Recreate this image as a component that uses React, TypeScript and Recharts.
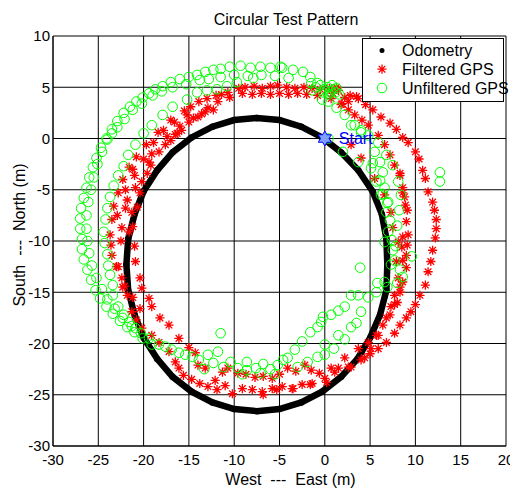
import { ScatterChart, Scatter, XAxis, YAxis, CartesianGrid, Legend, Label } from 'recharts';

type Pt = [number, number];

const FONT = '"Liberation Sans", Arial, Helvetica, sans-serif';

const xTicks = [-30, -25, -20, -15, -10, -5, 0, 5, 10, 15, 20];
const yTicks = [-30, -25, -20, -15, -10, -5, 0, 5, 10];
const seriesNames = ['Odometry', 'Filtered GPS', 'Unfiltered GPS'];

// odometry track
const odometry: Pt[] = [
  [6.9, -12.3], [6.8, -9.8], [6.3, -7.4], [5.3, -5.2], [3.7, -3.1], [1.8, -1.35], [-0.3, 0.1],
  [-2.6, 1.15], [-5.0, 1.8], [-7.5, 2.0], [-10.0, 1.8], [-12.4, 1.15], [-14.7, 0.1], [-16.8, -1.35],
  [-18.5, -3.1], [-20.0, -5.15], [-21.0, -7.4], [-21.7, -9.8], [-21.9, -12.3], [-21.7, -14.8],
  [-21.0, -17.2], [-20.0, -19.45], [-18.5, -21.5], [-16.8, -23.25], [-14.7, -24.7], [-12.4, -25.75],
  [-10.0, -26.4], [-7.5, -26.6], [-5.0, -26.4], [-2.6, -25.75], [-0.3, -24.7], [1.8, -23.25],
  [3.6, -21.5], [5.0, -19.45], [6.1, -17.2], [6.8, -14.8], [6.9, -12.3],
];

const filteredGps: Pt[] = [
  // outer lap
  [-0.5, 4.8], [0.5, 4.9], [1.5, 4.7], [2.8, 4.2], [3.7, 3.9], [4.5, 3.3], [5.3, 2.8], [6.2, 2.1],
  [7.2, 1.5], [7.9, 0.9], [8.6, 0.1], [9.2, -0.4], [10.0, -1.3], [10.4, -2.0], [10.8, -3.1],
  [11.1, -3.9], [11.4, -5.2], [11.9, -6.2], [12.1, -7.0], [12.3, -7.9], [12.3, -8.8], [12.2, -9.7],
  [11.9, -10.9], [11.7, -12.0], [11.4, -13.0], [11.1, -14.3], [10.5, -15.3], [10.0, -16.2],
  [9.5, -16.9], [9.0, -17.5], [8.3, -18.2], [7.7, -19.0], [6.8, -19.9], [5.9, -20.5], [5.0, -21.0],
  [4.0, -21.6], [2.6, -22.3], [1.1, -22.8], [0.0, -23.4],
  [-1.4, -23.9], [-2.5, -24.0], [-3.6, -24.4], [-4.7, -24.2], [-5.8, -24.4], [-6.9, -24.7],
  [-8.0, -24.5], [-9.1, -24.4], [-10.2, -24.9], [-11.0, -24.1], [-11.9, -24.5], [-12.9, -24.2],
  [-13.8, -23.9], [-14.7, -23.5], [-15.6, -23.1], [-16.1, -22.4], [-16.5, -21.8], [-17.2, -20.8],
  [-18.3, -19.9], [-19.1, -19.2], [-20.2, -18.5], [-20.8, -17.7], [-21.3, -16.9], [-21.8, -15.3],
  [-22.1, -14.4], [-22.4, -13.6], [-23.0, -12.5], [-23.5, -11.4], [-23.6, -10.4],
  [-23.7, -9.4], [-23.5, -7.9], [-23.3, -6.6], [-22.8, -5.3], [-22.3, -4.0], [-21.6, -2.8],
  [-20.8, -1.8], [-19.7, -0.6], [-18.4, 0.6], [-17.0, 1.8], [-15.5, 2.7], [-13.9, 3.6],
  [-12.0, 4.2], [-10.7, 4.5], [-9.5, 4.9], [-8.8, 5.0], [-7.8, 5.1], [-6.9, 4.9], [-6.0, 5.1],
  [-5.2, 5.2], [-4.2, 5.0], [-3.3, 4.9], [-2.3, 5.0], [-1.4, 4.9],
  // middle lap
  [-14.0, 2.1], [-12.9, 3.0], [-11.8, 3.6], [-10.5, 4.0], [-9.1, 4.4], [-8.0, 4.3], [-7.0, 4.4],
  [-6.0, 4.3], [-5.0, 4.4], [-4.0, 4.3], [-3.0, 4.4], [-2.0, 4.3], [-0.8, 4.2], [0.7, 3.9],
  [1.8, 3.3], [2.6, 2.8], [3.3, 2.3], [4.1, 1.8], [4.8, 1.3], [5.9, 0.3], [6.6, -0.6], [7.2, -1.6],
  [7.7, -2.6], [8.3, -3.6], [8.6, -4.8], [8.8, -5.7], [8.9, -6.5], [9.0, -8.1], [9.2, -9.4],
  [9.1, -10.4], [9.0, -11.4], [9.0, -12.6], [8.6, -14.0], [8.3, -15.0], [7.7, -16.2], [7.2, -17.2],
  [6.4, -18.2], [5.7, -19.2], [4.8, -19.9], [3.7, -20.5], [2.2, -21.4], [0.7, -22.4],
  [-0.6, -22.9], [-1.5, -22.6], [-2.2, -22.1], [-3.2, -22.7], [-4.1, -22.4], [-5.0, -23.0],
  [-5.8, -23.4], [-6.8, -23.2], [-7.7, -23.3], [-8.7, -23.0], [-9.6, -22.9], [-10.7, -22.4],
  [-11.3, -22.8], [-12.1, -23.6], [-13.2, -22.4], [-14.0, -22.1], [-14.3, -20.9], [-15.0, -20.4],
  [-16.1, -19.5], [-17.2, -18.2], [-18.2, -17.5], [-19.1, -16.4], [-19.4, -15.6], [-20.2, -14.6],
  [-20.4, -13.6], [-20.9, -12.0], [-21.0, -10.5], [-21.2, -8.6], [-20.7, -6.7], [-20.4, -5.3],
  [-19.6, -3.4], [-18.3, -1.3], [-17.6, -0.6], [-16.3, 0.5], [-15.0, 1.6],
  // inner lap, left side
  [-22.5, -10.0], [-22.4, -8.7], [-22.0, -6.8], [-20.9, -4.8], [-19.4, -2.3], [-16.5, 0.4],
  [-13.6, 2.4], [-12.3, 2.8], [-21.6, -9.1], [-21.3, -7.2], [-20.2, -4.2], [-19.2, -2.6],
  [-17.0, -0.2], [-15.8, 0.8], [-14.5, 2.0], [-13.2, 2.6], [-22.8, -12.5], [-22.3, -14.5],
  [-21.2, -15.5], [-20.4, -16.6], [-21.8, -6.0], [-21.0, -3.6], [-20.0, -2.0], [-18.9, -0.4],
  [-17.8, 0.8], [-16.6, 1.6], [-15.2, 2.3], [-22.9, -7.5], [-22.0, -5.0], [-21.2, -3.0],
  [-19.1, -1.5], [-17.4, 0.2], [-16.0, 1.2], [-14.8, 3.1], [-13.0, 3.9], [-11.4, 4.3],
  // inner lap, right side
  [2.9, -0.6], [4.0, -1.9], [5.5, -3.9], [6.6, -5.5], [7.3, -7.2], [7.5, -8.7], [8.1, -10.1],
  [7.9, -12.0], [8.1, -13.6], [7.7, -15.3], [7.3, -16.4], [6.8, -17.5], [5.9, -19.2], [5.1, -20.5],
  [4.4, -21.4], [2.9, -22.3], [1.5, -22.4], [0.2, -23.8], [-1.6, -24.0], [-3.5, -24.4],
  [-5.3, -24.5], [-6.8, -25.0], [8.3, -3.4], [8.6, -5.3], [9.1, -7.0], [8.6, -9.6], [8.5, -10.6],
  [8.6, -11.9], [8.3, -14.5], [8.0, -16.0],
  // near the top crossing
  [1.3, 5.0], [1.9, 3.4], [3.5, 4.1], [2.2, 4.0], [0.9, 4.4], [2.6, 3.6],
];

const unfilteredGps: Pt[] = [
  // outer band, outer edge
  [-0.8, 5.4], [-1.6, 6.0], [-2.4, 6.5], [-3.5, 6.7], [-4.9, 7.0], [-6.0, 6.9], [-7.1, 7.0],
  [-8.2, 6.9], [-9.3, 7.1], [-10.5, 7.0], [-11.5, 6.8], [-12.3, 6.7], [-13.2, 6.5], [-14.1, 6.2],
  [-15.0, 6.0], [-16.0, 5.8], [-17.0, 5.5], [-17.9, 5.1], [-18.7, 4.8], [-19.4, 4.4], [-20.1, 4.0],
  [-20.8, 3.6], [-21.5, 3.1], [-22.2, 2.5], [-22.9, 1.7], [-23.5, 0.9], [-24.1, 0.0], [-24.7, -0.9],
  [-25.2, -1.9], [-25.6, -2.8], [-26.0, -3.8], [-26.3, -4.8], [-26.6, -5.8], [-26.9, -6.8],
  [-27.0, -7.8], [-27.0, -8.8], [-26.8, -9.8], [-26.8, -10.8], [-26.6, -11.8], [-26.2, -12.8],
  [-25.8, -13.8], [-25.3, -14.8], [-24.8, -15.6], [-24.1, -16.4], [-23.4, -17.1], [-22.6, -17.8],
  [-21.8, -18.4], [-21.0, -18.9], [-20.1, -19.5], [-19.1, -20.1],
  // outer band, inner edge
  [-4.0, 5.9], [-5.5, 6.1], [-7.0, 6.2], [-8.5, 6.1], [-10.0, 6.2], [-11.5, 6.0], [-12.8, 5.8],
  [-13.8, 5.7], [-15.3, 5.3], [-16.8, 5.0], [-18.0, 4.6], [-19.0, 4.2], [-20.2, 3.4], [-21.2, 2.8],
  [-22.1, 1.9], [-22.9, 1.1], [-23.5, 0.5], [-24.0, -0.1], [-24.6, -1.3], [-25.1, -2.5],
  [-25.5, -3.8], [-25.8, -5.0], [-26.1, -6.2], [-26.3, -7.5], [-26.3, -8.8], [-26.2, -10.0],
  [-26.0, -11.2], [-25.7, -12.4], [-25.2, -13.6], [-24.6, -14.7], [-24.0, -15.7], [-23.2, -16.6],
  [-22.3, -17.5], [-21.3, -18.3],
  // inner lap
  [-7.9, 5.9], [-9.7, 5.5], [-10.8, 5.1], [-11.9, 4.8], [-13.0, 4.7], [-14.1, 4.5], [-15.2, 3.8],
  [-16.8, 3.1], [-17.9, 2.3], [-19.1, 1.3], [-20.0, 0.5], [-20.9, -0.6], [-21.7, -1.6],
  [-22.2, -2.7], [-22.8, -3.6], [-23.3, -4.6], [-23.7, -5.7], [-24.0, -6.8], [-24.2, -7.9],
  [-24.4, -9.1], [-24.3, -10.2], [-24.0, -11.3], [-23.9, -12.4], [-23.7, -13.3], [-23.4, -14.3],
  [-23.4, -15.3], [-22.8, -16.4], [-22.2, -17.2], [-21.6, -17.9], [-20.9, -18.5], [-20.3, -19.0],
  [-19.4, -19.5], [-18.3, -20.1], [-17.6, -20.3], [-16.9, -20.6], [-16.1, -20.9], [-15.4, -21.1],
  [-14.6, -21.3], [-13.9, -21.6], [-12.9, -21.1], [-11.8, -20.8], [-12.3, -21.9], [-11.2, -22.3],
  [-10.4, -21.8], [-9.6, -22.4], [-8.6, -22.6], [-8.6, -21.8], [-7.6, -22.4], [-6.8, -22.0],
  [-6.0, -22.5], [-5.2, -22.1], [-4.6, -21.6], [-4.1, -21.4], [-3.3, -20.6], [-2.5, -19.8],
  [-1.6, -18.9], [-0.8, -18.4], [-0.2, -17.4], [0.7, -17.2], [1.5, -16.8], [2.2, -16.4],
  [2.9, -15.3], [3.7, -15.3], [4.8, -15.5], [5.7, -15.0], [5.8, -14.1], [6.6, -14.0], [6.9, -14.5],
  [7.3, -12.3], [8.0, -14.1], [8.6, -13.5], [8.3, -12.8], [7.7, -11.9], [7.5, -10.9], [7.4, -9.9],
  [6.6, -10.1], [7.0, -9.1], [7.2, -8.0], [6.8, -7.2], [6.9, -6.3], [6.2, -5.5], [6.4, -5.4],
  [6.1, -4.1], [5.7, -4.2], [5.1, -2.9], [5.3, -2.4], [3.7, -2.3], [2.0, -1.3], [0.4, 0.0],
  [-13.3, -22.5], [-9.1, -23.0], [-7.1, -22.9], [-5.5, -23.0], [-3.0, -22.3], [-1.9, -21.8],
  [-0.8, -21.3],
  // right side, outer track
  [0.4, 3.6], [1.3, 3.0], [2.2, 2.3], [3.3, 1.3], [4.0, 0.8], [4.8, 0.3], [5.9, -0.4], [6.8, -1.6],
  [7.5, -2.6], [8.1, -4.2], [8.4, -5.5], [8.2, -7.0], [8.0, -8.5], [7.8, -10.5], [5.5, -1.3],
  [6.1, -2.3], [6.4, -3.3], [6.6, -4.8], [7.0, -6.2], [2.9, 1.3], [4.0, 0.6],
  // lower right
  [0.0, -20.1], [1.5, -19.2], [2.9, -18.4], [4.0, -16.9], [0.0, -21.1], [-0.4, -17.9],
  [1.0, -20.5], [2.2, -19.6], [3.5, -18.0],
  // cluster at the top crossing
  [-1.5, 5.4], [-1.0, 5.0], [-0.5, 5.2], [0.0, 4.8], [0.3, 5.0], [0.6, 4.6], [0.9, 4.8], [1.2, 4.5],
  [0.4, 4.3], [-0.2, 4.5], [0.8, 5.2], [1.3, 4.9], [-0.3, 3.8], [-1.4, 4.7], [1.6, 4.3],
  // strays
  [12.7, -3.3], [12.7, -4.2], [9.6, -11.5], [3.9, -12.6], [-11.5, -19.0], [-4.7, 6.9],
];

const startPoint: Pt[] = [[0, 0]];

const toXY = (pts: Pt[]) => pts.map(([x, y]) => ({ x, y }));

const Dot = ({ cx, cy }: any) => <circle cx={cx} cy={cy} r={3.2} fill="#000" />;

const Star = ({ cx, cy }: any) => {
  const r = 4.6;
  const d = r * 0.72;
  return (
    <path
      d={`M${cx - r},${cy}H${cx + r}M${cx},${cy - r}V${cy + r}M${cx - d},${cy - d}L${cx + d},${cy + d}M${cx - d},${cy + d}L${cx + d},${cy - d}`}
      stroke="#ff0000"
      strokeWidth={1.3}
      fill="none"
    />
  );
};

const Ring = ({ cx, cy }: any) => (
  <circle cx={cx} cy={cy} r={4.8} fill="none" stroke="#00ff00" strokeWidth={1} />
);

function hexagram(cx: number, cy: number, r: number) {
  const pts: string[] = [];
  for (let i = 0; i < 12; i++) {
    const a = -Math.PI / 2 + (i * Math.PI) / 6;
    const rr = i % 2 === 0 ? r : r / Math.sqrt(3);
    pts.push(`${cx + rr * Math.cos(a)},${cy + rr * Math.sin(a)}`);
  }
  return pts.join(' ');
}

const StartMark = ({ cx, cy }: any) => (
  <g>
    <polygon points={hexagram(cx, cy, 7.5)} fill="#7f9fff" stroke="#0000ff" strokeWidth={1} />
    <text x={cx + 14} y={cy + 5.5} fill="#0000ff" fontSize={16} fontFamily={FONT}>
      Start
    </text>
  </g>
);

const markers = [
  (x: number, y: number) => <circle cx={x} cy={y} r={2.5} fill="#000" />,
  (x: number, y: number) => <Star cx={x} cy={y} />,
  (x: number, y: number) => <Ring cx={x} cy={y} />,
];

const LegendBox = () => (
  <div
    style={{
      position: 'relative',
      width: 142,
      height: 64,
      border: '1px solid #000',
      background: '#fff',
      boxSizing: 'border-box',
    }}
  >
    <svg width={142} height={64} style={{ position: 'absolute', left: -1, top: -1, overflow: 'visible' }}>
      {seriesNames.map((name, i) => {
        const cy = 12.4 + i * 18.8;
        return (
          <g key={name}>
            {markers[i](20, cy)}
            <text x={40} y={cy + 5.7} fontSize={16} fontFamily={FONT} fill="#000">
              {name}
            </text>
          </g>
        );
      })}
    </svg>
  </div>
);

export default function App() {
  const tick = { fill: '#000', fontSize: 15, fontFamily: FONT };

  return (
    <ScatterChart width={510} height={480} margin={{ top: 28, right: 12, bottom: 0, left: 0 }}>
      <CartesianGrid stroke="#000" strokeWidth={1} />
      <XAxis
        type="number"
        dataKey="x"
        domain={[-30, 20]}
        ticks={xTicks}
        allowDataOverflow
        height={42}
        tick={tick}
        tickLine={false}
        tickSize={0}
        tickMargin={8}
        stroke="#000"
      >
        <Label
          value="x"
          content={() => (
            <g fontFamily={FONT} fontSize={16} fill="#000">
              <text x={282.5} y={477} textAnchor="middle">
                {'West\u00a0\u00a0---\u00a0\u00a0East (m)'}
              </text>
              <text x={278} y={17} textAnchor="middle">
                Circular Test Pattern
              </text>
            </g>
          )}
        />
      </XAxis>
      <YAxis
        type="number"
        dataKey="y"
        domain={[-30, 10]}
        ticks={yTicks}
        allowDataOverflow
        width={45}
        tick={tick}
        tickLine={false}
        tickSize={0}
        tickMargin={3}
        stroke="#000"
      >
        <Label
          value="y"
          content={() => (
            <text
              x={16.5}
              y={227}
              transform="rotate(-90 16.5 227)"
              textAnchor="middle"
              fontFamily={FONT}
              fontSize={16}
              fill="#000"
            >
              {'South\u00a0\u00a0---\u00a0\u00a0North (m)'}
            </text>
          )}
        />
      </YAxis>
      <Legend
        layout="vertical"
        align="center"
        verticalAlign="middle"
        content={() => <LegendBox />}
        wrapperStyle={{ left: 354, top: 30, width: 142, height: 64 }}
      />
      <Scatter
        name="Odometry"
        data={toXY(odometry)}
        line={{ stroke: '#000', strokeWidth: 6.5 }}
        lineType="joint"
        shape={<Dot />}
        isAnimationActive={false}
      />
      <Scatter name="Filtered GPS" data={toXY(filteredGps)} shape={<Star />} isAnimationActive={false} />
      <Scatter name="Unfiltered GPS" data={toXY(unfilteredGps)} shape={<Ring />} isAnimationActive={false} />
      <Scatter name="Start" data={toXY(startPoint)} shape={<StartMark />} isAnimationActive={false} />
    </ScatterChart>
  );
}
